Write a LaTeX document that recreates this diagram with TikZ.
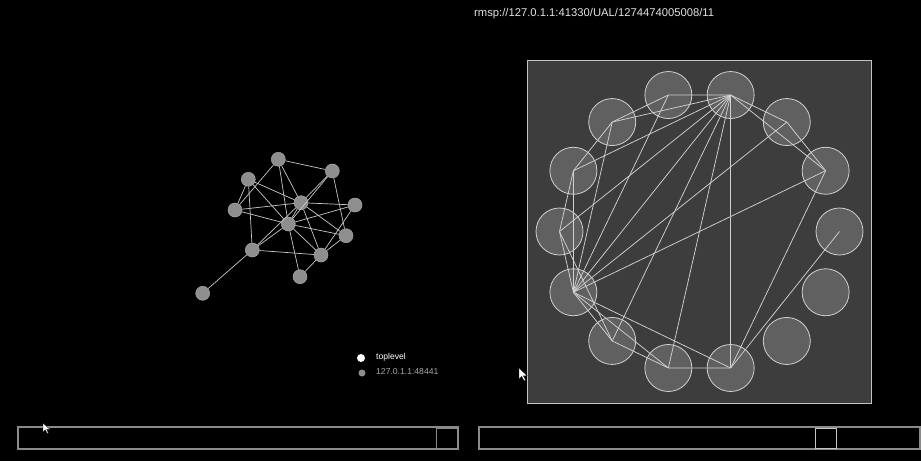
\documentclass[tikz,border=0pt]{standalone}
\usepackage{fontspec}
\setmainfont{Liberation Sans}
\definecolor{edgecol}{HTML}{C8C8C8}
\definecolor{lnode}{HTML}{8E8E8E}
\definecolor{lnodeb}{HTML}{A8A8A8}
\definecolor{panel}{HTML}{3D3D3D}
\definecolor{panelb}{HTML}{C4C4C4}
\definecolor{rfill}{HTML}{606060}
\definecolor{rline}{HTML}{D0D0D0}
\definecolor{slider}{HTML}{8A8A8A}
\definecolor{titlecol}{HTML}{E2E2E2}
\begin{document}
\begin{tikzpicture}[x=1pt,y=-1pt,
  lnd/.style={circle,fill=lnode,draw=lnodeb,line width=0.5pt,minimum size=14pt,inner sep=0pt},
  ledge/.style={draw=edgecol,line width=0.7pt},
  rnd/.style={circle,fill=rfill,draw=rline,line width=0.8pt,minimum size=47pt,inner sep=0pt},
  redge/.style={draw=rline,line width=0.75pt},
  sbar/.style={draw=slider,line width=1.1pt},
  knob/.style={draw=#1,line width=1pt},
  cursor/.style={fill=white,draw=black,line width=0.3pt},
  lbl/.style={inner sep=0pt,anchor=west,font=\fontsize{8.6}{10}\selectfont}]
\fill[black] (0,0) rectangle (921,461);
\useasboundingbox (0,0) rectangle (921,461);
% title
\node[inner sep=0pt,anchor=west,text=titlecol,font=\fontsize{11.25}{13}\selectfont] (title) at (474,14) {rmsp://127.0.1.1:41330/UAL/1274474005008/11};
% left graph
\node[lnd] (A) at (278.3,159.3) {};
\node[lnd] (B) at (332.3,171) {};
\node[lnd] (C) at (248.3,179.3) {};
\node[lnd] (D) at (235,210) {};
\node[lnd] (E) at (301,202.7) {};
\node[lnd] (F) at (355,205) {};
\node[lnd] (G) at (288.3,224) {};
\node[lnd] (H) at (346,235.7) {};
\node[lnd] (I) at (252.3,250) {};
\node[lnd] (J) at (321,255) {};
\node[lnd] (K) at (300,276.7) {};
\node[lnd] (L) at (202.7,293.3) {};
\foreach \a/\b in {A/B,A/D,A/E,A/G,B/E,B/G,B/H,C/D,C/E,C/G,C/I,D/E,D/G,E/F,E/G,E/H,E/J,E/I,G/F,G/H,G/J,G/I,G/K,I/J,I/L,J/K,J/H,F/J}
  \path[ledge] (\a) -- (\b);
% legend
\node[circle,fill=white,minimum size=8pt,inner sep=0pt] (lw) at (361,358) {};
\node[circle,fill=lnode,minimum size=7pt,inner sep=0pt] (lg) at (362,373) {};
\node[lbl,text=white] (lt) at (376,357) {toplevel};
\node[lbl,text=lnodeb] (lh) at (376,372) {127.0.1.1:48441};
% right panel
\filldraw[fill=panel,draw=panelb,line width=0.8pt] (527,60.7) rectangle (871.5,403);
\foreach \k in {0,...,13}
  \node[rnd] (r\k) at ({699.5+140*cos(77.142857+\k*25.714286)},{231.5-140*sin(77.142857+\k*25.714286)}) {};
\foreach \a/\b in {0/1,0/2,0/3,0/4,0/5,0/6,0/7,0/8,0/12,0/13,13/12,13/5,12/5,12/8,11/8,8/7,8/5,7/6,7/5,6/5,6/4,5/4,5/3,5/2,5/1,4/3,3/2,2/1}
  \path[redge] (r\a.center) -- (r\b.center);
% sliders
\draw[sbar] (18,427) rectangle (458,449);
\draw[knob=slider] (436,428.5) rectangle (457,448);
\draw[sbar] (479,427) rectangle (920,449);
\draw[knob=panelb] (815,428.5) rectangle (836,448);
% cursors
\path[cursor] (43,423) -- ++(0,9) -- ++(2.3,-2.2) -- ++(1.8,3.6) -- ++(1.3,-0.6) -- ++(-1.7,-3.5) -- ++(3.2,0) -- cycle;
\path[cursor] (519,368) -- ++(0,11) -- ++(2.7,-2.6) -- ++(2.2,4.4) -- ++(1.6,-0.8) -- ++(-2.1,-4.2) -- ++(3.8,0) -- cycle;
\end{tikzpicture}
\end{document}
